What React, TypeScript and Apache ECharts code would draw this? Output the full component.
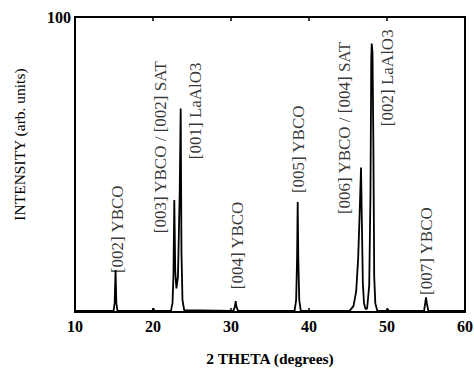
import React, { useEffect, useRef } from "react";
import * as echarts from "echarts";

const twoTheta = [
  10, 14.95, 15.08, 15.2, 15.3, 15.45, 19.9, 20.05, 20.2,
  22.3, 22.5, 22.62, 22.73, 22.85, 23.0, 23.2, 23.42, 23.55, 23.65, 23.78, 24.0,
  30.3, 30.5, 30.6, 30.7, 30.9,
  38.15, 38.35, 38.47, 38.55, 38.63, 38.75, 38.95,
  45.2, 45.7, 46.05, 46.3, 46.5, 46.67, 46.78, 46.9, 47.05, 47.25,
  47.45, 47.72, 47.88, 47.98, 48.04, 48.14, 48.26, 48.36, 48.5, 48.75,
  50.0, 50.1, 50.2,
  54.75, 54.9, 55.0, 55.1, 55.3, 60,
];
const intensity = [
  0.4, 0.4, 3, 14.2, 3, 0.4, 0.4, 1.2, 0.4,
  0.4, 3, 12, 38, 14, 8, 12, 40, 69, 20, 4, 0.6,
  0.4, 1.8, 3.7, 1.8, 0.4,
  0.4, 4, 18, 37.3, 18, 4, 0.4,
  0.4, 2, 7, 18, 34, 49, 30, 10, 3, 1,
  1.2, 9, 40, 85, 91, 88, 55, 12, 3, 0.5,
  0.4, 1.0, 0.4,
  0.4, 3, 5, 3, 0.4, 0.4,
];

const peakLabels = [
  "[002] YBCO",
  "[003] YBCO / [002] SAT",
  "[001] LaAlO3",
  "[004] YBCO",
  "[005] YBCO",
  "[006] YBCO / [004] SAT",
  "[002] LaAlO3",
  "[007] YBCO",
];
const labelTheta = [15.5, 21.0, 25.4, 30.8, 38.65, 44.6, 50.1, 55.1];
const labelIntensity = [13.2, 26.7, 51.8, 7.7, 40.3, 33.2, 63.0, 5.8];

const xTicks = [10, 20, 30, 40, 50, 60];
const yTickLabel = 100;

const SERIF = "Liberation Serif";

export default function App() {
  const ref = useRef<HTMLDivElement>(null);
  useEffect(() => {
    if (!ref.current) return;
    const chart = echarts.init(ref.current, null, { renderer: "svg" });
    const spectrum = twoTheta.map((t, i) => [t, intensity[i]]);
    const labels = peakLabels.map((name, i) => ({
      name,
      value: [labelTheta[i], labelIntensity[i]],
    }));
    chart.setOption({
      animation: false,
      backgroundColor: "#fff",
      grid: {
        left: 75,
        right: 9,
        top: 17,
        bottom: 56,
        outerBoundsMode: "none",
        containLabel: false,
        show: true,
        borderColor: "#000",
        borderWidth: 2,
        backgroundColor: "transparent",
      },
      xAxis: [
        {
          type: "value",
          min: xTicks[0],
          max: xTicks[xTicks.length - 1],
          interval: 10,
          position: "bottom",
          axisLine: { show: false },
          axisTick: { show: true, inside: true, length: 4, lineStyle: { color: "#000", width: 1.5 } },
          splitLine: { show: false },
          axisLabel: {
            color: "#000",
            fontFamily: SERIF,
            fontWeight: "bold",
            fontSize: 16,
            margin: 6,
          },
          name: "2 THETA (degrees)",
          nameLocation: "middle",
          nameGap: 38,
          nameTextStyle: {
            color: "#000",
            fontFamily: SERIF,
            fontWeight: "bold",
            fontSize: 15.5,
          },
        },
        {
          type: "value",
          min: xTicks[0],
          max: xTicks[xTicks.length - 1],
          interval: 10,
          position: "top",
          axisLine: { show: false },
          axisTick: { show: true, inside: true, length: 4, lineStyle: { color: "#000", width: 1.5 } },
          axisLabel: { show: false },
          splitLine: { show: false },
        },
      ],
      yAxis: {
        type: "value",
        min: 0,
        max: yTickLabel,
        interval: yTickLabel,
        axisLine: { show: false },
        axisTick: { show: false },
        splitLine: { show: false },
        axisLabel: {
          color: "#000",
          fontFamily: SERIF,
          fontWeight: "bold",
          fontSize: 16,
          margin: 4,
          formatter: (v: number) => (v === yTickLabel ? String(v) : ""),
        },
        name: "INTENSITY (arb. units)",
        nameLocation: "middle",
        nameGap: 48,
        nameTextStyle: {
          color: "#000",
          fontFamily: SERIF,
          fontSize: 15.5,
          padding: [0, 0, 0, 40],
        },
      },
      series: [
        {
          type: "line",
          data: spectrum,
          showSymbol: false,
          symbol: "none",
          lineStyle: { color: "#000", width: 1.8 },
          clip: true,
          z: 3,
        },
        {
          type: "scatter",
          data: labels,
          symbolSize: 0,
          silent: true,
          label: {
            show: true,
            formatter: "{b}",
            rotate: 90,
            position: [0, 0],
            align: "left",
            verticalAlign: "middle",
            color: "#000",
            fontFamily: SERIF,
            fontSize: 17,
          },
          z: 4,
        },
      ],
    });
    return () => chart.dispose();
  }, []);
  return (
    <div
      ref={ref}
      style={{ position: "fixed", left: 0, top: 0, width: 474, height: 368, background: "#fff" }}
    />
  );
}
